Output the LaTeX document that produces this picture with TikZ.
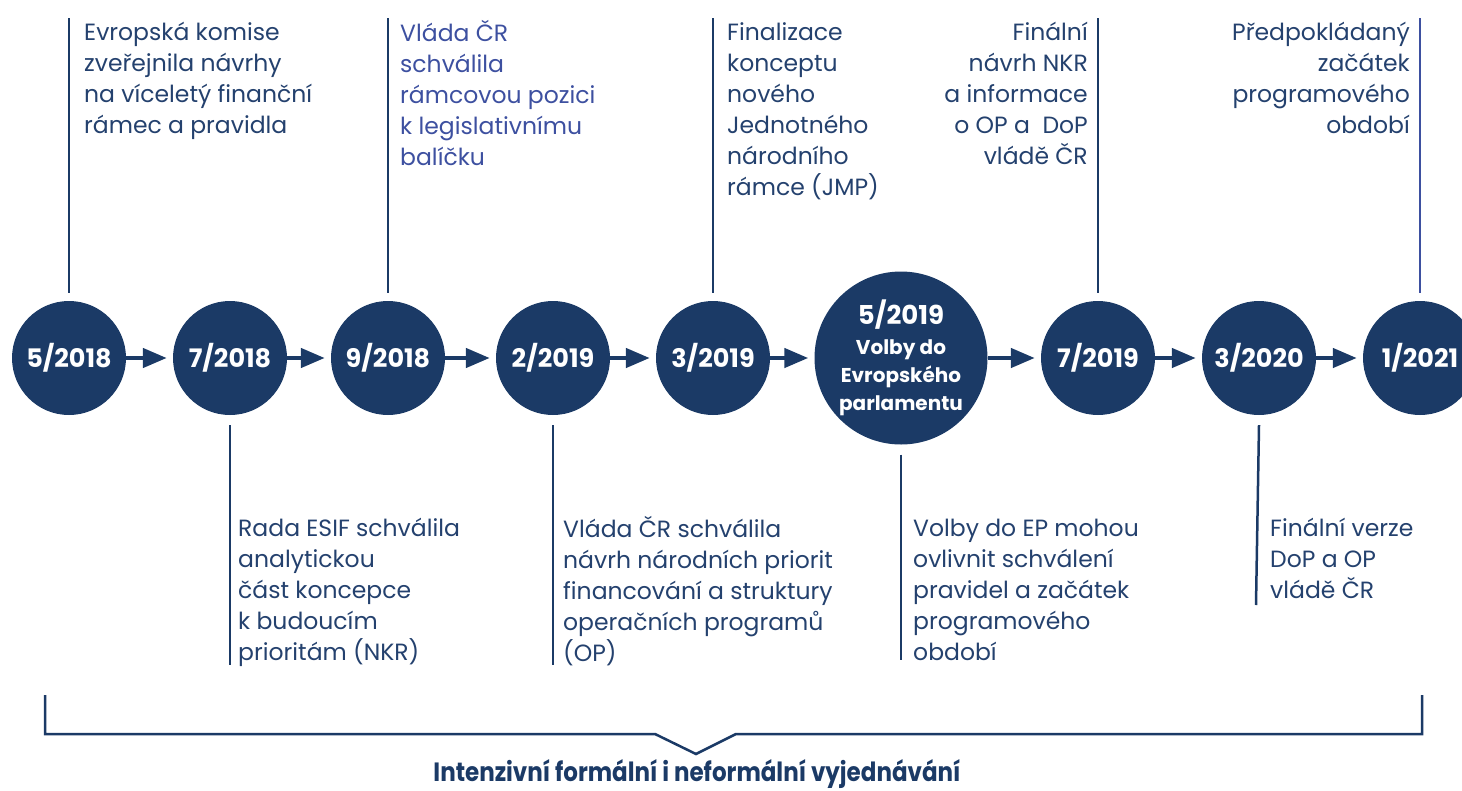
\documentclass[tikz,border=0pt]{standalone}
\usepackage{fontspec}
\setmainfont{Poppins}
\usetikzlibrary{arrows.meta}
\definecolor{navy}{HTML}{1B3A66}
\definecolor{txt}{HTML}{24416E}
\definecolor{blu}{HTML}{3D50A0}
\newcommand\fstrut{\rule{0pt}{20pt}}
\begin{document}
\begin{tikzpicture}[x=1pt,y=-1pt,
  date/.style={circle, fill=navy, minimum size=114pt, inner sep=0pt, text=white, font=\fontsize{25.5}{25}\selectfont\bfseries},
  bigdate/.style={date, minimum size=173pt, align=center, font=\fontsize{20}{28}\selectfont\bfseries},
  link/.style={draw=navy, line width=4.5pt, -{Triangle[length=24pt,width=19pt]}, shorten >=6pt},
  tick/.style={draw=navy, line width=2.5pt},
  desc/.style={inner sep=0pt, text=txt, font=\fontsize{23.5}{31}\selectfont},
]
\useasboundingbox (0,0) rectangle (1462,790);

% circles
\node[date] (c1) at (69,358) {5/2018};
\node[date] (c2) at (230,358) {7/2018};
\node[date] (c3) at (388,358) {9/2018};
\node[date] (c4) at (553,358) {2/2019};
\node[date] (c5) at (713,358) {3/2019};
\node[bigdate] (c6) at (901,358) {{\fontsize{26}{30}\selectfont 5/2019}\\[2pt]Volby do\\Evropského\\parlamentu};
\node[date] (c7) at (1098,358) {7/2019};
\node[date] (c8) at (1259,358) {3/2020};
\node[date] (c9) at (1420,358) {1/2021};

% arrows
\draw[link] (c1) -- (c2);
\draw[link] (c2) -- (c3);
\draw[link] (c3) -- (c4);
\draw[link] (c4) -- (c5);
\draw[link] (c5) -- (c6);
\draw[link] (c6) -- (c7);
\draw[link] (c7) -- (c8);
\draw[link] (c8) -- (c9);

% ticks
\coordinate (t1) at (69,18);
\coordinate (t3) at (388,18);
\coordinate (t5) at (713,18);
\coordinate (t7) at (1098,18);
\coordinate (t9) at (1420,18);
\draw[tick] (t1) -- ([yshift=8pt]c1.north);
\draw[tick] (t3) -- ([yshift=8pt]c3.north);
\draw[tick] (t5) -- ([yshift=8pt]c5.north);
\draw[tick] (t7) -- ([yshift=8pt]c7.north);
\draw[tick, draw=blu] (t9) -- ([yshift=8pt]c9.north);
\coordinate (b2) at (230,665);
\coordinate (b4) at (553,665);
\coordinate (b6) at (901,660);
\coordinate (b8) at (1256,605);
\draw[tick] ([yshift=-10pt]c2.south) -- (b2);
\draw[tick] ([yshift=-10pt]c4.south) -- (b4);
\draw[tick] ([yshift=-10pt]c6.south) -- (b6);
\draw[tick] ([yshift=-10pt]c8.south) -- (b8);

% top texts
\node[desc, align=left, anchor=north west] (d1) at (84,20)
  {\fstrut Evropská komise\\zveřejnila návrhy\\na víceletý finanční\\rámec a pravidla};
\node[desc, align=left, anchor=north west, text=blu] (d3) at (400,20)
  {\fstrut Vláda ČR\\schválila\\rámcovou pozici\\k legislativnímu\\balíčku};
\node[desc, align=left, anchor=north west] (d5) at (727,20)
  {\fstrut Finalizace\\konceptu\\nového\\Jednotného\\národního\\rámce (JMP)};
\node[desc, align=right, anchor=north east] (d7) at (1088,20)
  {\fstrut Finální\\návrh NKR\\a informace\\o OP a~~DoP\\vládě ČR};
\node[desc, align=right, anchor=north east] (d9) at (1410,20)
  {\fstrut Předpokládaný\\začátek\\programového\\období};

% bottom texts
\node[desc, align=left, anchor=north west] (d2) at (238,516)
  {\fstrut Rada ESIF schválila\\analytickou\\část koncepce\\k budoucím\\prioritám (NKR)};
\node[desc, align=left, anchor=north west] (d4) at (563,516)
  {\fstrut Vláda ČR schválila\\návrh národních priorit\\financování a struktury\\operačních programů\\(OP)};
\node[desc, align=left, anchor=north west] (d6) at (913,516)
  {\fstrut Volby do EP mohou\\ovlivnit schválení\\pravidel a začátek\\programového\\období};
\node[desc, align=left, anchor=north west] (d8) at (1270,516)
  {\fstrut Finální verze\\DoP a OP\\vládě ČR};

% bracket
\coordinate (k1) at (45,695);
\coordinate (k2) at (45,734);
\coordinate (k3) at (655,734);
\coordinate (k4) at (696,754);
\coordinate (k5) at (736,734);
\coordinate (k6) at (1422,734);
\coordinate (k7) at (1422,695);
\draw[tick, line join=miter] (k1) -- (k2) -- (k3) -- (k4) -- (k5) -- (k6) -- (k7);
\node[anchor=base, inner sep=0pt, text=navy, font=\fontsize{23}{24}\selectfont\bfseries] (lab) at (697,781)
  {\scalebox{1}[1.15]{Intenzivní formální i neformální vyjednávání}};
\end{tikzpicture}
\end{document}
